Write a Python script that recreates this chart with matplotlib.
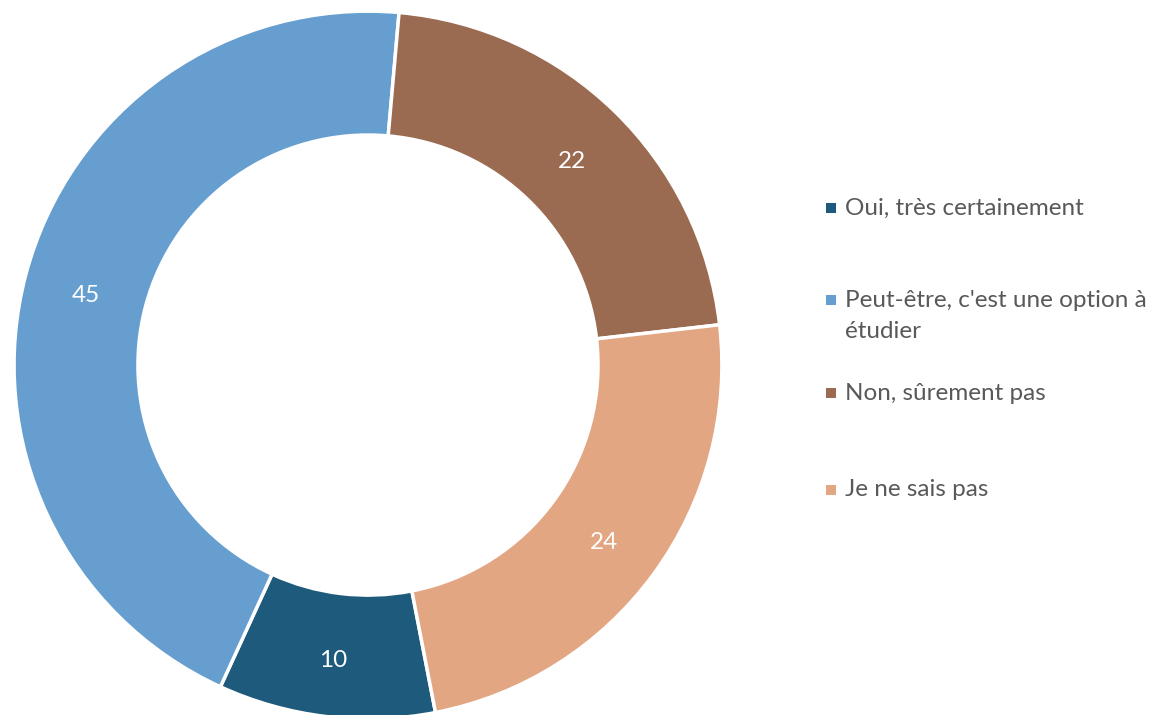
import numpy as np
import matplotlib.pyplot as plt
from matplotlib.patches import Rectangle

labels = ["Oui, très certainement", "Peut-être, c'est une option à\nétudier",
          "Non, sûrement pas", "Je ne sais pas"]
values = [10, 45, 22, 24]
colors = ['#1E5A7C', '#659ECF', '#9A6A51', '#E2A683']

plt.rcParams['font.family'] = ['Lato', 'DejaVu Sans']

W, H = 1157, 715
fig = plt.figure(figsize=(W / 100, H / 100), dpi=100)
ax = fig.add_axes([0.0121, -0.0056, 0.6119, 0.990])

wedges, texts = ax.pie(
    values, colors=colors, startangle=-79, counterclock=False,
    wedgeprops=dict(width=0.35, edgecolor='white', linewidth=2.5),
)
for w, v in zip(wedges, values):
    ang = np.deg2rad((w.theta1 + w.theta2) / 2)
    r = 0.825
    ax.text(r * np.cos(ang), r * np.sin(ang) - 0.015, str(v), ha='center', va='center',
            color='white', fontsize=17.5)
ax.set_xlim(-1, 1)
ax.set_ylim(-1, 1)
ax.set_aspect('equal')
ax.axis('off')

# legend, drawn by hand to match spacing
row_y = [208, 300, 393, 490]
for lab, c, y in zip(labels, colors, row_y):
    fig.patches.append(Rectangle(((826) / W, 1 - (y + 5) / H), 10 / W, 10 / H,
                                 facecolor=c, edgecolor='none',
                                 transform=fig.transFigure, figure=fig))
    n_lines = lab.count('\n') + 1
    ty = y + 16 * (n_lines - 1)
    fig.text(845 / W, 1 - ty / H, lab, ha='left', va='center',
             fontsize=17.5, color='#595959', linespacing=1.6)

fig.savefig('out.png', dpi=100)
